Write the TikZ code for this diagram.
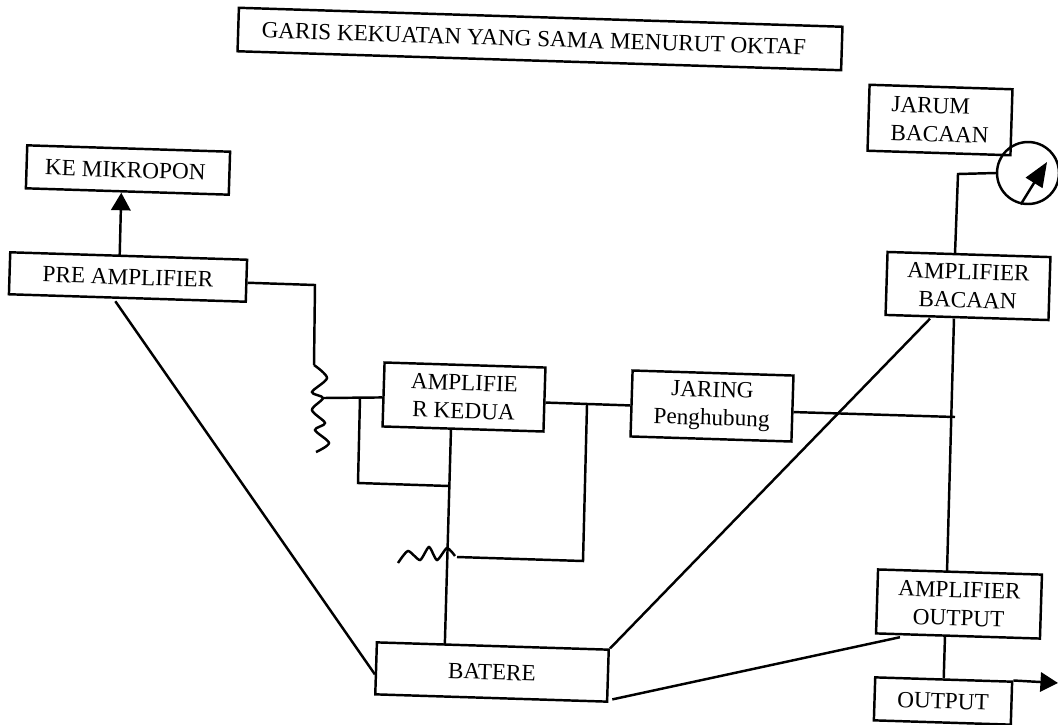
\documentclass[tikz,border=0pt]{standalone}
\usepackage{fontspec}
\setmainfont{Liberation Serif}
\usetikzlibrary{arrows.meta,calc}

\begin{document}
\begin{tikzpicture}[
  x=0.02cm, y=-0.02cm,
  box/.style={draw, line width=1.4pt, rotate=-1.8, inner sep=0pt, align=center,
              font=\fontsize{13.2}{16}\selectfont},
  wire/.style={line width=1.4pt},
  arr/.style={-{Triangle[length=10pt, width=11pt]}, line width=1.4pt}
]
  \useasboundingbox (0,0) rectangle (1058,724);

  \node[box, minimum width=12.08cm, minimum height=0.87cm] (title) at (540,39) {\raisebox{-2pt}{GARIS KEKUATAN YANG SAMA MENURUT OKTAF}\hspace*{7pt}};
  \node[box, minimum width=4.06cm, minimum height=0.86cm] (mic) at (128,170) {KE MIKROPON\hspace*{3pt}};
  \node[box, minimum width=4.74cm, minimum height=0.84cm] (pre) at (128,277) {PRE AMPLIFIER};
  \node[box, minimum width=3.22cm, minimum height=1.28cm] (amp2) at (464,397) {AMPLIFIE\\ R KEDUA};
  \node[box, minimum width=3.22cm, minimum height=1.32cm] (jaring) at (712,406) {JARING\\ Penghubung};
  \node[box, minimum width=3.26cm, minimum height=1.26cm] (ampb) at (968,286) {AMPLIFIER\\ BACAAN};
  \node[box, minimum width=2.86cm, minimum height=1.32cm, align=left] (jarum) at (940,120) {JARUM\\ BACAAN};
  \node[box, minimum width=3.28cm, minimum height=1.28cm] (ampo) at (959,604) {AMPLIFIER\\ OUTPUT};
  \node[box, minimum width=2.74cm, minimum height=0.86cm] (out) at (943,701) {OUTPUT};
  \node[box, minimum width=4.64cm, minimum height=1.04cm] (batere) at (492,672) {BATERE};
  \node[draw, circle, line width=1.4pt, minimum size=1.24cm, inner sep=0pt] (meter) at (1028,173) {};

  \coordinate (res1) at (314,365);
  \coordinate (wiper) at (323,398);
  \coordinate (fb1) at (360,398);
  \coordinate (fb2) at (358,483);
  \coordinate (fb3) at (449,486);
  \coordinate (jun) at (587,405);
  \coordinate (pot1) at (457,557);
  \coordinate (pot2) at (583,561);
  \coordinate (cross) at (955,417);
  \coordinate (bend) at (958,174);
  \coordinate (needle) at (1047,162);
  \coordinate (outtip) at (1058,683);

  % mikropon dan pre amplifier
  \draw[arr] ($(pre.north)+(-9,0)$) -- ($(mic.south)+(-6,0)$);
  \draw[wire] ($(pre.east)+(0,2)$) -- (315,285) -- (res1);
  \draw[wire] plot[smooth, tension=0.5] coordinates {(res1) (327,378) (312,392) (wiper) (312,410) (325,423) (315,430) (329,443) (316,452)};
  \draw[wire] (wiper) -- ($(amp2.west)+(0,3)$);
  \draw[wire] (fb1) -- (fb2) -- (fb3);
  \draw[wire] ($(amp2.south)+(-12,0)$) -- ($(batere.north)+(-48,-1)$);

  % potensio
  \draw[wire] plot[smooth, tension=0.4] coordinates {(398,563) (408,551) (420,560) (429,547) (437,560) (447,548) (455,556)};
  \draw[wire] (pot1) -- (pot2) -- (jun);
  \draw[wire] ($(amp2.east)+(0,3)$) -- ($(jaring.west)+(0,2)$);
  \draw[wire] ($(jaring.east)+(0,3.5)$) -- (cross);

  % batere
  \draw[wire] ($(pre.south)+(-12,2)$) -- ($(batere.west)+(0,6)$);
  \draw[wire] (batere.north east) -- ($(ampb.south)+(-37,0)$);
  \draw[wire] ($(batere.south east)+(4,-3.5)$) -- ($(ampo.south)+(-58,0)$);

  % bacaan dan output
  \draw[wire] ($(ampb.south)+(-13,0)$) -- ($(ampo.north)+(-13,0)$);
  \draw[wire] ($(ampb.north)+(-14,0)$) -- (bend) -- (meter.west);
  \draw[arr, -{Triangle[length=14pt, width=11pt]}] (meter.-103) -- (needle);
  \draw[wire] ($(ampo.south)+(-13,0)$) -- (out.north);
  \draw[arr] (out.north east) -- (outtip);
\end{tikzpicture}
\end{document}
